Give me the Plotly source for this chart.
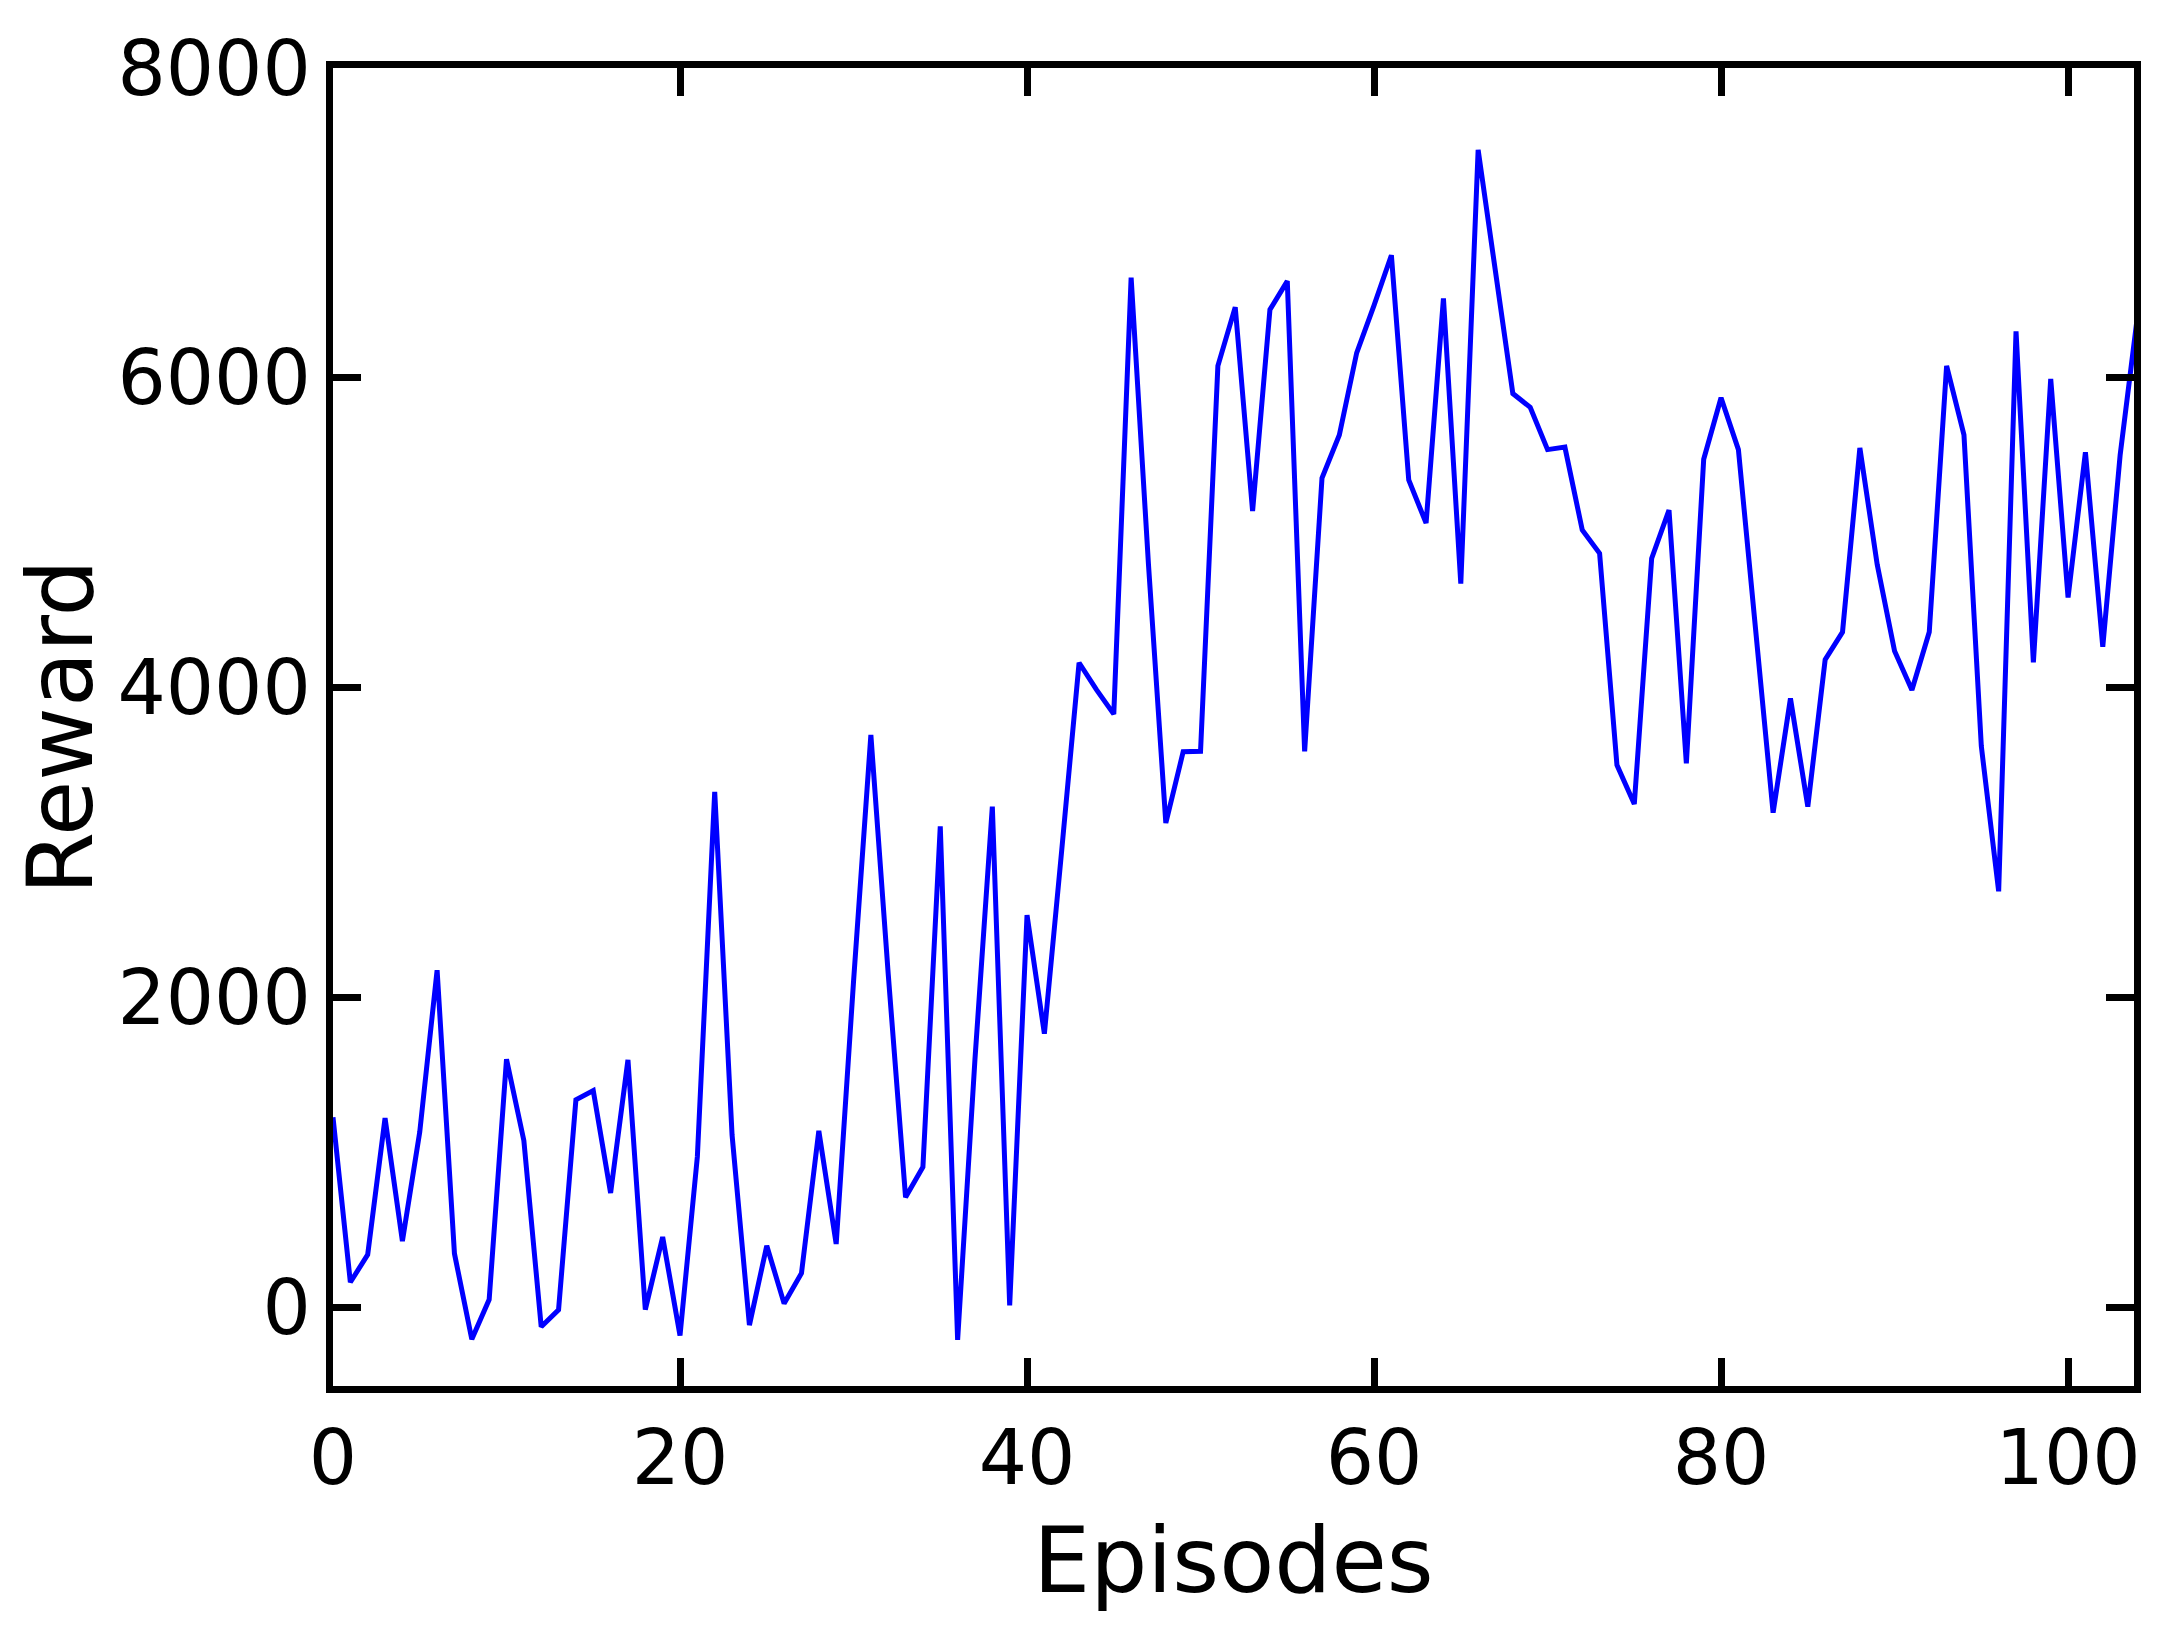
import plotly.graph_objects as go

episodes = list(range(105))
reward = [
    1225, 160, 338, 1220, 425, 1130, 2175, 345, -208, 48,
    1600, 1075, -127, -18, 1338, 1398, 736, 1596, -17, 452,
    -184, 971, 3326, 1110, -117, 396, 22, 218, 1138, 407,
    2100, 3694, 2150, 709, 904, 3103, -212, 1600, 3231, 11,
    2530, 1765, 2950, 4160, 3986, 3828, 6646, 4794, 3125, 3585,
    3588, 6077, 6456, 5139, 6440, 6624, 3588, 5352, 5631, 6161,
    6468, 6791, 5340, 5061, 6512, 4671, 7472, 6700, 5898, 5809,
    5536, 5552, 5017, 4866, 3499, 3248, 4833, 5145, 3510, 5474,
    5871, 5536, 4400, 3192, 3929, 3231, 4180, 4358, 5547, 4794,
    4235, 3984, 4358, 6077, 5631, 3622, 2684, 6300, 4163, 5993,
    4581, 5519, 4263, 5500, 6400,
]
x_ticks = [0, 20, 40, 60, 80, 100]
y_ticks = [0, 2000, 4000, 6000, 8000]

fig = go.Figure()
fig.add_trace(go.Scatter(x=episodes, y=reward, mode="lines",
                         line=dict(color="#0000ff", width=5),
                         showlegend=False))

font = dict(family="DejaVu Sans", color="black")
fig.update_layout(
    width=2166, height=1630,
    margin=dict(l=325, r=40, t=60, b=252),
    paper_bgcolor="white", plot_bgcolor="white",
    font=dict(family="DejaVu Sans", size=76, color="black"),
)
fig.update_xaxes(
    range=[0, 103.8], tickvals=x_ticks, ticktext=[str(v) for v in x_ticks],
    ticks="inside", ticklen=28, tickwidth=6.5, tickcolor="black",
    showline=True, linewidth=7, linecolor="black", mirror="allticks",
    showgrid=False, zeroline=False,
    tickfont=dict(size=76, **font),
    title=dict(text="Episodes", font=dict(size=90, **font), standoff=30),
)
fig.update_yaxes(
    range=[-510, 8000], tickvals=y_ticks, ticktext=[str(v) for v in y_ticks],
    ticks="inside", ticklen=28, tickwidth=6.5, tickcolor="black",
    showline=True, linewidth=7, linecolor="black", mirror="allticks",
    showgrid=False, zeroline=False,
    tickfont=dict(size=76, **font),
    title=dict(text="Reward", font=dict(size=90, **font), standoff=25),
)
fig.write_html("out.html")
